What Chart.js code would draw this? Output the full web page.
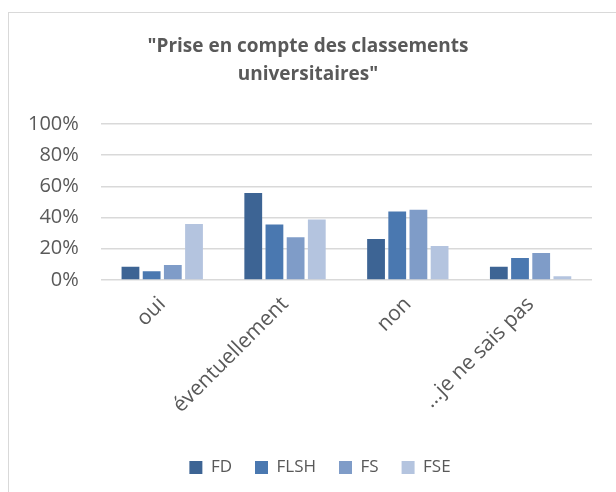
<!DOCTYPE html>
<html>
<head>
<meta charset="utf-8">
<script src="https://cdn.jsdelivr.net/npm/chart.js@4"></script>
<style>
  body { margin: 0; background: #fff; }
  #frame { position: absolute; left: 8px; top: 12px; width: 640px; height: 500px; border: 1px solid #d9d9d9; }
  #wrap { position: absolute; left: 0; top: 0; width: 616px; height: 492px; }
</style>
</head>
<body>
<div id="frame"></div>
<div id="wrap"><canvas id="chart"></canvas></div>
<script>
'use strict'

// survey answers per faculty, shares
const categories = ['oui', 'éventuellement', 'non', '...je ne sais pas'];
const seriesNames = ['FD', 'FLSH', 'FS', 'FSE'];
const fdValues = [0.084, 0.557, 0.262, 0.084];
const flshValues = [0.056, 0.355, 0.439, 0.14];
const fsValues = [0.095, 0.273, 0.45, 0.172];
const fseValues = [0.359, 0.387, 0.217, 0.024];
const yTicks = [0, 0.2, 0.4, 0.6, 0.8, 1];

const colors = ['#3d6494', '#4a78b0', '#7f9cc8', '#b4c4df'];
const allValues = [fdValues, flshValues, fsValues, fseValues];
const textColor = '#595959';
const fontName = "'Open Sans', sans-serif";

let datasets = [];
for (let i = 0; i < seriesNames.length; i++) {
  datasets.push({
    label: seriesNames[i],
    data: allValues[i],
    backgroundColor: colors[i],
    borderWidth: 0,
    categoryPercentage: 0.69,
    barPercentage: 0.84
  });
}

// the legend sits a bit right of the middle in the original
const legendShift = {
  id: 'legendShift',
  afterLayout: function (chart) {
    chart.legend.left += 12;
    chart.legend.right += 12;
  }
};

const config = {
  type: 'bar',
  data: { labels: categories, datasets: datasets },
  options: {
    responsive: true,
    maintainAspectRatio: false,
    animation: false,
    layout: { padding: { left: 24, right: 24, top: 32, bottom: 6 } },
    plugins: {
      title: {
        display: true,
        text: ['"Prise en compte des classements', 'universitaires"'],
        color: textColor,
        font: { family: fontName, size: 19, weight: 'bold', lineHeight: 1.5 },
        padding: { top: 0, bottom: 35 }
      },
      legend: {
        position: 'bottom',
        labels: {
          color: textColor,
          font: { family: fontName, size: 17 },
          boxWidth: 13,
          boxHeight: 13,
          padding: 23
        }
      },
      tooltip: { enabled: false }
    },
    scales: {
      x: {
        grid: { display: false },
        border: { display: false },
        ticks: {
          color: textColor,
          font: { family: fontName, size: 21 },
          maxRotation: 45,
          minRotation: 45,
          padding: 4
        },
        // leave some empty room between the rotated labels and the legend
        afterFit: function (axis) {
          axis.height += 14;
        }
      },
      y: {
        min: 0,
        max: 1,
        afterBuildTicks: function (axis) {
          axis.ticks = yTicks.map(function (v) { return { value: v }; });
        },
        grid: { color: '#d9d9d9', lineWidth: 1.5, drawTicks: false },
        border: { display: false },
        ticks: {
          color: textColor,
          font: { family: fontName, size: 20 },
          padding: 22,
          callback: function (v) { return Math.round(v * 100) + '%'; }
        },
        afterFit: function (axis) {
          axis.width -= 18;
        }
      }
    }
  },
  plugins: [legendShift]
};

const myChart = new Chart(document.getElementById('chart'), config);
</script>
</body>
</html>
